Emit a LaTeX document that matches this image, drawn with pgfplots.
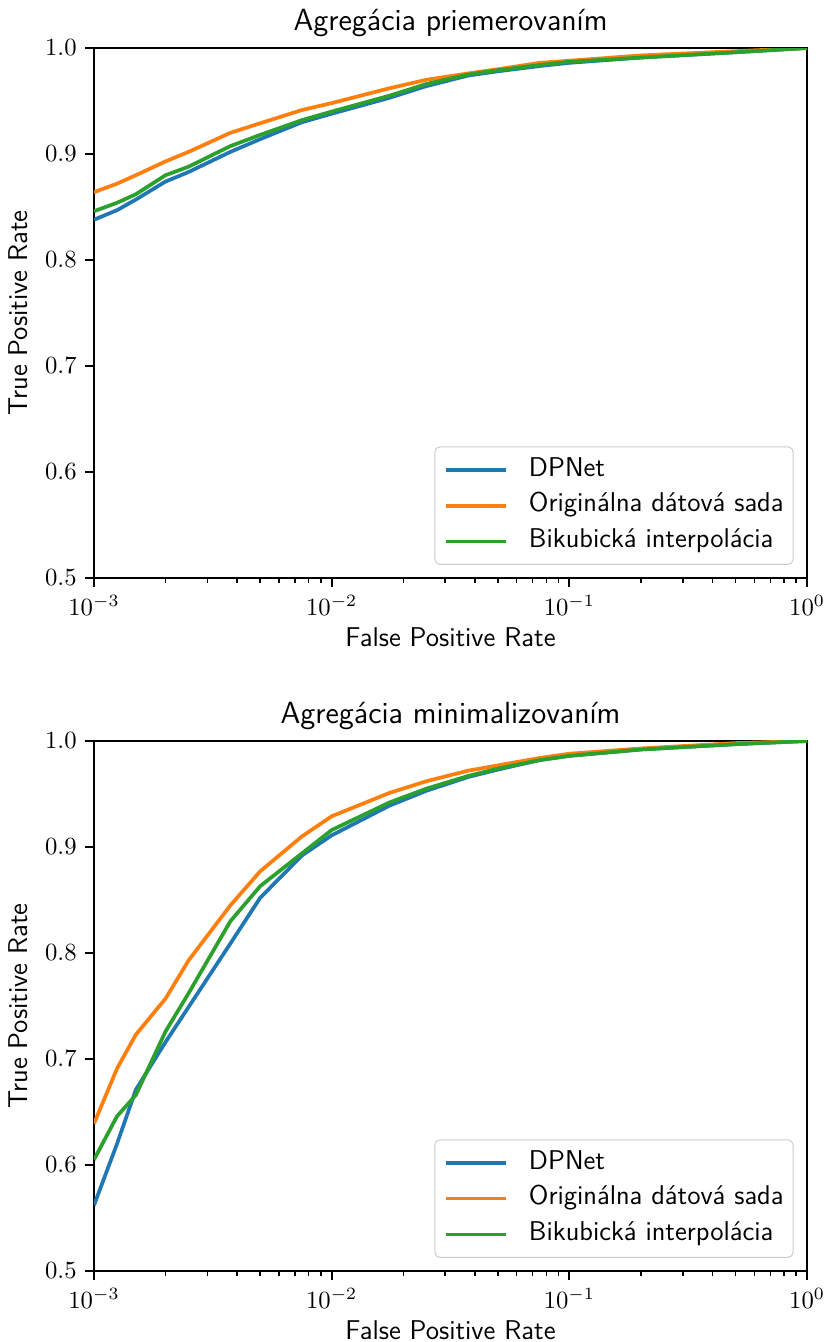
\documentclass[border=0pt]{standalone}
\usepackage{fontspec}
\usepackage{pgfplots}
\pgfplotsset{compat=1.18}
\renewcommand{\familydefault}{\sfdefault}
\definecolor{tabblue}{HTML}{1F77B4}
\definecolor{taborange}{HTML}{FF7F0E}
\definecolor{tabgreen}{HTML}{2CA02C}

\pgfplotsset{
  legend image code/.code={\draw[#1, line width=1.5pt] (0pt,0pt) -- (24.3pt,0pt);},
  every axis plot/.append style={line width=1.5pt},
  every axis/.append style={
    scale only axis,
    width=288.8pt, height=214.65pt,
    xmin=0.001, xmax=1, ymin=0.5, ymax=1.0,
    ytick={0.5,0.6,0.7,0.8,0.9,1.0},
    yticklabel style={/pgf/number format/fixed,/pgf/number format/precision=1,/pgf/number format/fixed zerofill},
    xtick={0.001,0.01,0.1,1},
    xticklabels={$10^{-3}$,$10^{-2}$,$10^{-1}$,$10^{0}$},
    tick align=outside,
    tick pos=left,
    major tick length=3.5pt,
    minor tick length=2pt,
    axis line style={line width=0.8pt},
    ticklabel style={font=\fontsize{10.2}{12}\selectfont},
    label style={font=\sffamily\fontsize{11}{13}\selectfont},
    xlabel style={inner sep=0pt, yshift=-1.6pt},
    title style={font=\sffamily\fontsize{12.4}{14}\selectfont, yshift=-5pt},
    legend style={
      at={(1,0)}, anchor=south east, xshift=-5.5pt, yshift=5.3pt,
      draw=black!20, rounded corners=2pt,
      fill=white, fill opacity=0.8, text opacity=1,
      font=\sffamily\fontsize{11}{13}\selectfont,
      nodes={inner sep=0pt, text height=0.75em, text depth=0.25em},
      row sep=4.5pt, column sep=8.5pt,
      inner xsep=3.8pt, inner ysep=4.3pt
    },
    legend cell align=left,
  },
  major tick style={black, line width=0.8pt},
  minor tick style={black, line width=0.6pt},
}

\begin{document}
\begin{tikzpicture}
\path[use as bounding box] (0pt,0pt) rectangle (335.34pt,-543.51pt);

\begin{semilogxaxis}[at={(38.07pt,-19.44pt)}, anchor=north west,
  title={Agregácia priemerovaním},
  xlabel={False Positive Rate}, ylabel={True Positive Rate}]
\addplot[tabblue, no markers] coordinates {
(0.001,0.838) (0.00125,0.847) (0.0015,0.857) (0.002,0.874) (0.0025,0.883)
(0.00375,0.902) (0.005,0.914) (0.0075,0.930) (0.01,0.938) (0.0175,0.953)
(0.025,0.964) (0.0375,0.974) (0.05,0.978) (0.075,0.983) (0.1,0.986)
(0.2,0.991) (0.5,0.996) (1,1.0)};
\addlegendentry{DPNet}
\addplot[taborange, no markers] coordinates {
(0.001,0.864) (0.00125,0.872) (0.0015,0.880) (0.002,0.893) (0.0025,0.902)
(0.00375,0.920) (0.005,0.929) (0.0075,0.9415) (0.01,0.948) (0.0175,0.962)
(0.025,0.970) (0.0375,0.976) (0.05,0.980) (0.075,0.986) (0.1,0.988)
(0.2,0.993) (0.5,0.997) (1,1.0)};
\addlegendentry{Originálna dátová sada}
\addplot[tabgreen, no markers] coordinates {
(0.001,0.846) (0.00125,0.854) (0.0015,0.862) (0.002,0.880) (0.0025,0.888)
(0.00375,0.9075) (0.005,0.918) (0.0075,0.932) (0.01,0.940) (0.0175,0.955)
(0.025,0.966) (0.0375,0.975) (0.05,0.979) (0.075,0.984) (0.1,0.987)
(0.2,0.991) (0.5,0.996) (1,1.0)};
\addlegendentry{Bikubická interpolácia}
\end{semilogxaxis}

\begin{semilogxaxis}[at={(38.07pt,-300.1pt)}, anchor=north west,
  title={Agregácia minimalizovaním},
  xlabel={False Positive Rate}, ylabel={True Positive Rate}]
\addplot[tabblue, no markers] coordinates {
(0.001,0.562) (0.00125,0.620) (0.0015,0.671) (0.002,0.716) (0.0025,0.749)
(0.00375,0.809) (0.005,0.852) (0.0075,0.892) (0.01,0.911) (0.0175,0.939)
(0.025,0.953) (0.0375,0.966) (0.05,0.973) (0.075,0.982) (0.1,0.986)
(0.2,0.992) (0.5,0.997) (1,1.0)};
\addlegendentry{DPNet}
\addplot[taborange, no markers] coordinates {
(0.001,0.639) (0.00125,0.691) (0.0015,0.723) (0.002,0.757) (0.0025,0.793)
(0.00375,0.845) (0.005,0.877) (0.0075,0.910) (0.01,0.929) (0.0175,0.951)
(0.025,0.962) (0.0375,0.972) (0.05,0.977) (0.075,0.984) (0.1,0.988)
(0.2,0.993) (0.5,0.998) (1,1.0)};
\addlegendentry{Originálna dátová sada}
\addplot[tabgreen, no markers] coordinates {
(0.001,0.605) (0.00125,0.646) (0.0015,0.666) (0.002,0.726) (0.0025,0.762)
(0.00375,0.830) (0.005,0.863) (0.0075,0.894) (0.01,0.916) (0.0175,0.942)
(0.025,0.955) (0.0375,0.967) (0.05,0.974) (0.075,0.982) (0.1,0.986)
(0.2,0.992) (0.5,0.997) (1,1.0)};
\addlegendentry{Bikubická interpolácia}
\end{semilogxaxis}
\end{tikzpicture}
\end{document}
